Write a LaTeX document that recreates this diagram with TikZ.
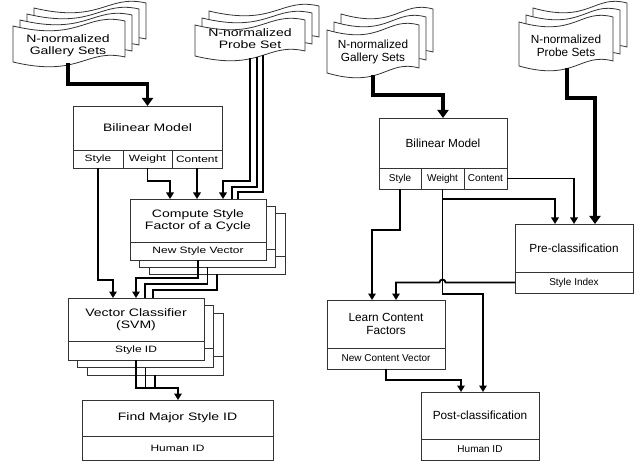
\documentclass[tikz,border=0pt]{standalone}
\usepackage{fontspec}
\setmainfont{Liberation Sans}
\newfontfamily\widefont[FakeStretch=1.3]{Liberation Sans}
\usetikzlibrary{arrows.meta}

\newcommand{\lbig}{\widefont\fontsize{10.8pt}{12pt}\selectfont}
\newcommand{\lsmall}{\widefont\fontsize{9.2pt}{11pt}\selectfont}
\newcommand{\rbig}{\fontsize{11.8pt}{13pt}\selectfont}
\newcommand{\rsmall}{\fontsize{10pt}{12pt}\selectfont}

% wavy data set: x, y of top left corner, width, height
\newcommand{\tapedoc}[4]{%
  \filldraw[tapeline] ({#1},{#2}) .. controls ({#1+0.6*#3},{#2+16}) and ({#1+0.65*#3},{#2-14}) .. ({#1+#3},{#2-5})
    -- ({#1+#3},{#2+#4-5}) .. controls ({#1+0.65*#3},{#2+#4-14}) and ({#1+0.6*#3},{#2+#4+16}) .. ({#1},{#2+#4}) -- cycle;}

\tikzset{
  tapeline/.style={draw=black!80, line width=0.8pt, fill=white},
  lbox/.style={draw=black!80, line width=0.8pt, fill=white, anchor=north west, inner sep=0pt, outer sep=0pt, align=center, font=\lbig},
  lsub/.style={lbox, font=\lsmall},
  rbox/.style={lbox, font=\rbig},
  rsub/.style={lbox, font=\rsmall},
  ldoc/.style={align=center, inner sep=0pt, font=\lbig},
  rdoc/.style={align=center, inner sep=0pt, font=\rbig},
  wire/.style={line width=1.8pt},
  link/.style={wire, -{Triangle[width=7.5pt,length=6.5pt]}},
  feed/.style={line width=3.6pt, -{Triangle[width=11pt,length=8pt]}}
}

\begin{document}
\begin{tikzpicture}[x=1pt,y=-1pt]
\useasboundingbox (0,0) rectangle (640,465);

% left: data sets
\foreach \k in {3,2,1,0} {\tapedoc{13+7*\k}{26-6*\k}{112}{36}}
\node[ldoc] (galL) at (68,46) {N-normalized\\Gallery Sets};
\coordinate (galLout) at (68,63);
\foreach \k in {2,1,0} {\tapedoc{195+7*\k}{25-7*\k}{110}{31}}
\node[ldoc] (prL) at (250,39) {N-normalized\\Probe Set};
\coordinate (prL1) at (250,58);
\coordinate (prL2) at (257,57);
\coordinate (prL3) at (263,55.5);

% left: boxes
\node[lbox, minimum width=149pt, minimum height=44pt] (bmL) at (73,106) {Bilinear Model};
\node[lsub, minimum width=50pt, minimum height=18pt] (bmLstyle) at (bmL.south west) {Style};
\node[lsub, minimum width=49pt, minimum height=18pt] (bmLweight) at (bmLstyle.north east) {Weight};
\node[lsub, minimum width=50pt, minimum height=18pt] (bmLcontent) at (bmLweight.north east) {Content};

\foreach \k in {2,1} {
  \node[lbox, minimum width=136pt, minimum height=43pt] (cs\k) at ({130+9.5*\k},{199+7*\k}) {};
  \node[lsub, minimum width=136pt, minimum height=18pt] (cs\k sub) at (cs\k.south west) {};
}
\node[lbox, minimum width=136pt, minimum height=43pt] (cs) at (130,199) {Compute Style\\Factor of a Cycle};
\node[lsub, minimum width=136pt, minimum height=18pt] (cssub) at (cs.south west) {New Style Vector};

\foreach \k in {2,1} {
  \node[lbox, minimum width=136pt, minimum height=43pt] (vc\k) at ({68+9.5*\k},{298+7.5*\k}) {};
  \node[lsub, minimum width=136pt, minimum height=19pt] (vc\k sub) at (vc\k.south west) {};
}
\node[lbox, minimum width=136pt, minimum height=43pt] (vc) at (68,298) {Vector Classifier\\(SVM)};
\node[lsub, minimum width=136pt, minimum height=19pt] (vcsub) at (vc.south west) {Style ID};

\node[lbox, minimum width=191pt, minimum height=36pt] (fm) at (82,400) {Find Major Style ID};
\node[lsub, minimum width=191pt, minimum height=24pt] (fmsub) at (fm.south west) {Human ID};

% left: connectors
\draw[feed] (galLout) -- (68,84) -| (bmL.north);
\draw[link] (prL1) -- (250,181) -| ([xshift=93pt]cs.north west);
\draw[wire] (prL2) -- (257,187) -| ([xshift=102pt]cs.north west);
\draw[wire] (prL3) -- (263,192) -| ([xshift=108pt]cs.north west);
\draw[link] (bmLweight.south) -- ++(0,13) -| ([xshift=40pt]cs.north west);
\draw[link] (bmLcontent.south) -- (bmLcontent.south |- cs.north);
\draw[link] (bmLstyle.south) -- ++(0,112) -| ([xshift=45pt]vc.north west);
\draw[link] ([xshift=68pt]cssub.south west) -- ++(0,18) -| ([xshift=68pt]vc.north west);
\draw[wire] ([xshift=68pt]cs1sub.south west) -- ++(0,17) -| ([xshift=77pt]vc.north west);
\draw[wire] ([xshift=68pt]cs2sub.south west) -- ++(0,16) -| ([xshift=85pt]vc.north west);
\draw[link] ([xshift=68pt]vcsub.south west) -- (136,388) -| ([xshift=96pt]fm.north west);
\draw[wire] ([xshift=68pt]vc1sub.south west) -- (145.5,388);
\draw[wire] ([xshift=68pt]vc2sub.south west) -- (155,388);

% right: data sets
\foreach \k in {2,1,0} {\tapedoc{327+7*\k}{30-8*\k}{92}{43}}
\node[rdoc] (galR) at (373,52) {N-normalized\\Gallery Sets};
\coordinate (galRout) at (373,75);
\foreach \k in {2,1,0} {\tapedoc{519+7*\k}{22-7*\k}{94}{44}}
\node[rdoc] (prR) at (566,46) {N-normalized\\Probe Sets};
\coordinate (prRout) at (567,68);

% right: boxes
\node[rbox, minimum width=128pt, minimum height=50pt] (bmR) at (379,118) {Bilinear Model};
\node[rsub, minimum width=42pt, minimum height=21pt] (bmRstyle) at (bmR.south west) {Style};
\node[rsub, minimum width=43pt, minimum height=21pt] (bmRweight) at (bmRstyle.north east) {Weight};
\node[rsub, minimum width=43pt, minimum height=21pt] (bmRcontent) at (bmRweight.north east) {Content};

\node[rbox, minimum width=118pt, minimum height=48pt] (pc) at (515,224) {Pre-classification};
\node[rsub, minimum width=118pt, minimum height=21pt] (pcsub) at (pc.south west) {Style Index};

\node[rbox, minimum width=118pt, minimum height=48pt] (lc) at (327,300) {Learn Content\\Factors};
\node[rsub, minimum width=118pt, minimum height=21pt] (lcsub) at (lc.south west) {New Content Vector};

\node[rbox, minimum width=118pt, minimum height=47pt] (po) at (421,392) {Post-classification};
\node[rsub, minimum width=118pt, minimum height=21pt] (posub) at (po.south west) {Human ID};

% right: connectors
\draw[feed] (galRout) -- (373,95) -| (bmR.north);
\draw[feed] (prRout) -- (567,98) -| ([xshift=80pt]pc.north west);
\draw[link] (bmRcontent.east) -| ([xshift=59pt]pc.north west);
\draw[link] (bmRweight.south) -- ++(0,10) -| ([xshift=40pt]pc.north west);
\draw[link] (bmRweight.south) -- ++(0,105) -| ([xshift=62pt]po.north west);
\draw[link] (bmRstyle.south) -- ++(0,41) -| ([xshift=45pt]lc.north west);
\draw[link] (pcsub.west) -- (445.5,282.5) arc[start angle=0,end angle=180,radius=3pt] -| ([xshift=69pt]lc.north west);
\draw[link] (lcsub.south) -- ++(0,11) -| ([xshift=40pt]po.north west);
\end{tikzpicture}
\end{document}
